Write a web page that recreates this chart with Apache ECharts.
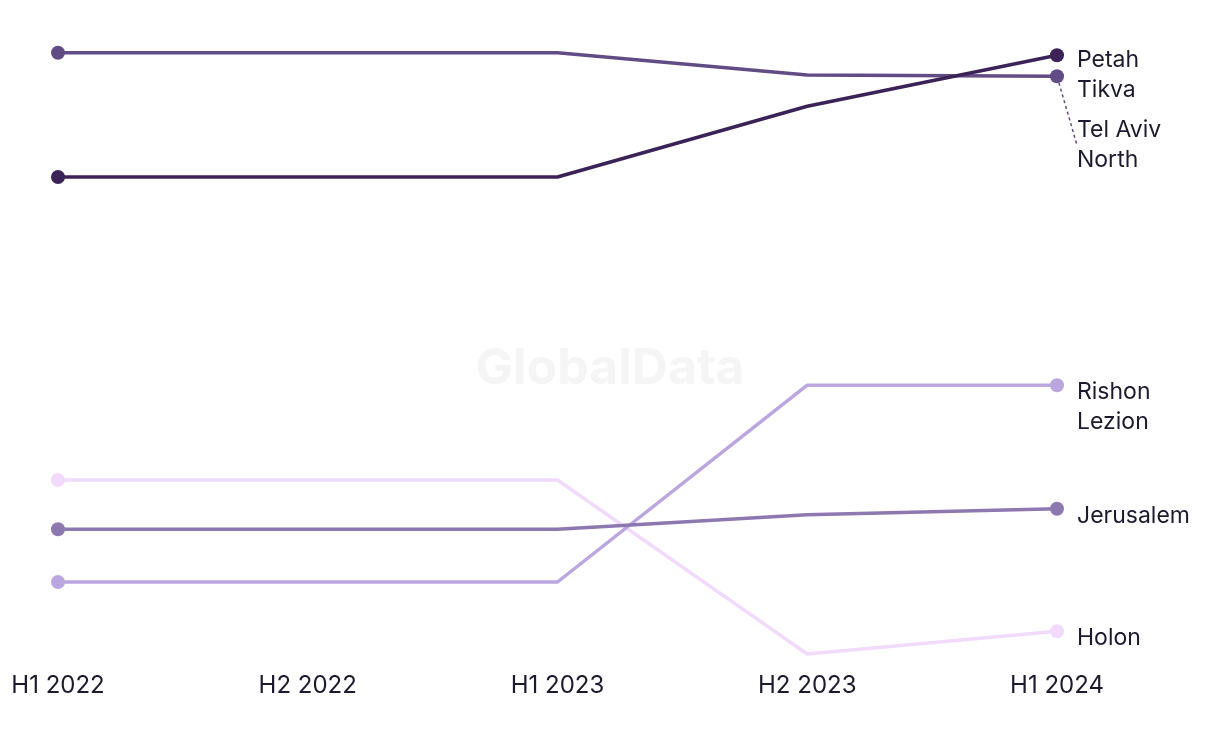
<!DOCTYPE html>
<html><head><meta charset="utf-8">
<script src="https://cdn.jsdelivr.net/npm/echarts@6/dist/echarts.min.js"></script>
<style>html,body{margin:0;padding:0;background:#fff}#c{width:1220px;height:744px}</style>
</head><body><div id="c"></div>
<script>
const categories = ['H1 2022', 'H2 2022', 'H1 2023', 'H2 2023', 'H1 2024'];
const seriesNames = ['Holon', 'Rishon\nLezion', 'Jerusalem', 'Tel Aviv\nNorth', 'Petah\nTikva'];
const holon     = [30.0, 30.0, 30.0, 1.0, 4.8];
const rishon    = [13.0, 13.0, 13.0, 45.8, 45.8];
const jerusalem = [21.8, 21.8, 21.8, 24.2, 25.2];
const telAviv   = [101.2, 101.2, 101.2, 97.5, 97.3];
const petah     = [80.5, 80.5, 80.5, 92.3, 100.8];
const seriesValues = [holon, rishon, jerusalem, telAviv, petah];
const colors = ['#f2dafc', '#bba6e0', '#8e78b0', '#624c85', '#3b2357'];
const labelDy = [7, 22, 7, 0, 20];

const chart = echarts.init(document.getElementById('c'));
const font = 'Inter, "Noto Sans", sans-serif';
const last = categories.length - 1;

const series = seriesValues.map((vals, i) => {
  const s = {
    name: seriesNames[i],
    type: 'line',
    data: vals,
    z: 2 + i,
    showSymbol: true,
    symbol: 'circle',
    symbolSize: (v, p) => (p.dataIndex === 0 || p.dataIndex === last) ? 14 : 0,
    lineStyle: { color: colors[i], width: 3.5 },
    itemStyle: { color: colors[i] },
    emphasis: { disabled: true },
    label: {
      show: true,
      position: 'right',
      distance: 13,
      offset: [0, labelDy[i]],
      color: '#1c1b2e',
      fontFamily: font,
      fontSize: 23,
      lineHeight: 30,
      formatter: p => p.dataIndex === last ? seriesNames[i] : ''
    }
  };
  if (i === 3) {
    s.labelLine = { show: true, smooth: false, length2: 0, lineStyle: { color: colors[i], width: 1.5, type: [3, 3] } };
    s.labelLayout = p => p.dataIndex === last ? { dy: 69 } : {};
  }
  return s;
});

chart.setOption({
  animation: false,
  backgroundColor: '#ffffff',
  grid: { left: 58, right: 163, top: 0, bottom: 84 },
  graphic: [{
    type: 'text', left: 'center', top: 344, z: 0,
    style: { text: 'GlobalData', fontFamily: 'Inter, "Liberation Sans", sans-serif', fontWeight: 'bold', fontSize: 50, fill: '#f5f5f5' }
  }],
  xAxis: {
    type: 'category', data: categories, boundaryGap: false,
    axisLine: { show: false }, axisTick: { show: false }, splitLine: { show: false },
    axisLabel: { color: '#1c1b2e', fontFamily: font, fontSize: 24, margin: 14 }
  },
  yAxis: { type: 'value', min: 0, max: 110, show: false, splitLine: { show: false } },
  series
});
</script></body></html>
